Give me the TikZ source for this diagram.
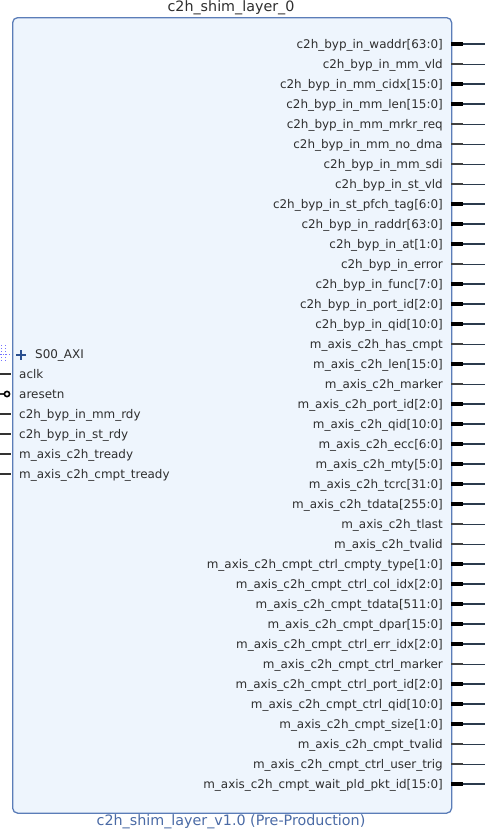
\documentclass[tikz,border=0pt]{standalone}
\usepackage{fontspec}
\setmainfont{DejaVu Sans}
\definecolor{txtc}{HTML}{2E2E2E}
\definecolor{boxfill}{HTML}{EEF5FD}
\definecolor{boxline}{HTML}{5B7DB8}
\definecolor{lblblue}{HTML}{4A6AA5}
\definecolor{wirec}{HTML}{2B3A4C}
\definecolor{plusc}{HTML}{2A4F8F}
\begin{document}
\begin{tikzpicture}[x=1pt,y=-1pt,
  pinlbl/.style={font=\fontsize{11.95}{14}\selectfont, text=txtc, inner sep=0pt},
  titlelbl/.style={font=\fontsize{14.3}{17}\selectfont, text=txtc, inner sep=0pt},
  sublbl/.style={font=\fontsize{14.3}{17}\selectfont, text=lblblue, inner sep=0pt},
  blkbox/.style={draw=boxline, fill=boxfill, line width=1.3pt, rounded corners=5pt, inner sep=0pt},
  stubin0/.style={draw=black!75, line width=2pt},
  stubin1/.style={draw=black, line width=4pt},
  stubout0/.style={draw=wirec, line width=1.1pt},
  stubout1/.style={draw=wirec, line width=1.9pt},
  leftstub/.style={draw=black!80, line width=2pt},
  ifdots/.style={draw=blue!55, dotted, line width=1pt},
  plussign/.style={draw=plusc, line width=2pt}]
\useasboundingbox (0,0) rectangle (485,835);
\node[blkbox, minimum width=439pt, minimum height=795.5pt, anchor=north west] (blk) at (12,17) {};
\node[titlelbl, anchor=base] (title) at (231,11.5) {c2h\_shim\_layer\_0};
\node[sublbl, anchor=base] (sub) at (231,825.5) {c2h\_shim\_layer\_v1.0 (Pre-Production)};
% right pins
\foreach [count=\k from 0] \name/\bus in {
 c2h\_byp\_in\_waddr[63:0]/1,
 c2h\_byp\_in\_mm\_vld/0,
 c2h\_byp\_in\_mm\_cidx[15:0]/1,
 c2h\_byp\_in\_mm\_len[15:0]/1,
 c2h\_byp\_in\_mm\_mrkr\_req/0,
 c2h\_byp\_in\_mm\_no\_dma/0,
 c2h\_byp\_in\_mm\_sdi/0,
 c2h\_byp\_in\_st\_vld/0,
 c2h\_byp\_in\_st\_pfch\_tag[6:0]/1,
 c2h\_byp\_in\_raddr[63:0]/1,
 c2h\_byp\_in\_at[1:0]/1,
 c2h\_byp\_in\_error/0,
 c2h\_byp\_in\_func[7:0]/1,
 c2h\_byp\_in\_port\_id[2:0]/1,
 c2h\_byp\_in\_qid[10:0]/1,
 m\_axis\_c2h\_has\_cmpt/0,
 m\_axis\_c2h\_len[15:0]/1,
 m\_axis\_c2h\_marker/0,
 m\_axis\_c2h\_port\_id[2:0]/1,
 m\_axis\_c2h\_qid[10:0]/1,
 m\_axis\_c2h\_ecc[6:0]/1,
 m\_axis\_c2h\_mty[5:0]/1,
 m\_axis\_c2h\_tcrc[31:0]/1,
 m\_axis\_c2h\_tdata[255:0]/1,
 m\_axis\_c2h\_tlast/0,
 m\_axis\_c2h\_tvalid/0,
 m\_axis\_c2h\_cmpt\_ctrl\_cmpty\_type[1:0]/1,
 m\_axis\_c2h\_cmpt\_ctrl\_col\_idx[2:0]/1,
 m\_axis\_c2h\_cmpt\_tdata[511:0]/1,
 m\_axis\_c2h\_cmpt\_dpar[15:0]/1,
 m\_axis\_c2h\_cmpt\_ctrl\_err\_idx[2:0]/1,
 m\_axis\_c2h\_cmpt\_ctrl\_marker/0,
 m\_axis\_c2h\_cmpt\_ctrl\_port\_id[2:0]/1,
 m\_axis\_c2h\_cmpt\_ctrl\_qid[10:0]/1,
 m\_axis\_c2h\_cmpt\_size[1:0]/1,
 m\_axis\_c2h\_cmpt\_tvalid/0,
 m\_axis\_c2h\_cmpt\_ctrl\_user\_trig/0,
 m\_axis\_c2h\_cmpt\_wait\_pld\_pkt\_id[15:0]/1}{
  \pgfmathsetmacro\yy{44.3+20*\k}
  \node[pinlbl, anchor=base east] (r\k) at (443,\yy+4.3) {\name};
  \coordinate (rs\k) at (451,\yy);
  \coordinate (rm\k) at (463,\yy);
  \coordinate (re\k) at (485,\yy);
  \draw[stubout\bus] (rm\k) -- (re\k);
  \draw[stubin\bus] (rs\k) -- (rm\k);
}
% left pins
\foreach [count=\k from 1] \name in {
 aclk, aresetn, c2h\_byp\_in\_mm\_rdy, c2h\_byp\_in\_st\_rdy,
 m\_axis\_c2h\_tready, m\_axis\_c2h\_cmpt\_tready}{
  \pgfmathsetmacro\yy{354+20*\k}
  \node[pinlbl, anchor=base west] (l\k) at (19,\yy+4.3) {\name};
  \coordinate (ls\k) at (0,\yy);
  \coordinate (le\k) at (11,\yy);
}
\foreach \k in {1,3,4,5,6}{\draw[leftstub] (ls\k) -- (le\k);}
% aresetn inverted pin
\coordinate (inv) at (7,394);
\draw[leftstub] (ls2) -- (4.3,394);
\draw[draw=black, line width=1.6pt, fill=white] (inv) circle (2.6pt);
% S00_AXI interface
\node[pinlbl, anchor=base west] (saxi) at (35,358.3) {S00\_AXI};
\coordinate (plus) at (21,354.8);
\draw[plussign] ([xshift=-5pt]plus) -- ([xshift=5pt]plus);
\draw[plussign] ([yshift=-5pt]plus) -- ([yshift=5pt]plus);
\draw[ifdots] (1.3,345) -- (1.3,362);
\draw[ifdots] (5.5,345) -- (5.5,362);
\draw[ifdots] (0,354) -- (10,354);
\end{tikzpicture}
\end{document}
